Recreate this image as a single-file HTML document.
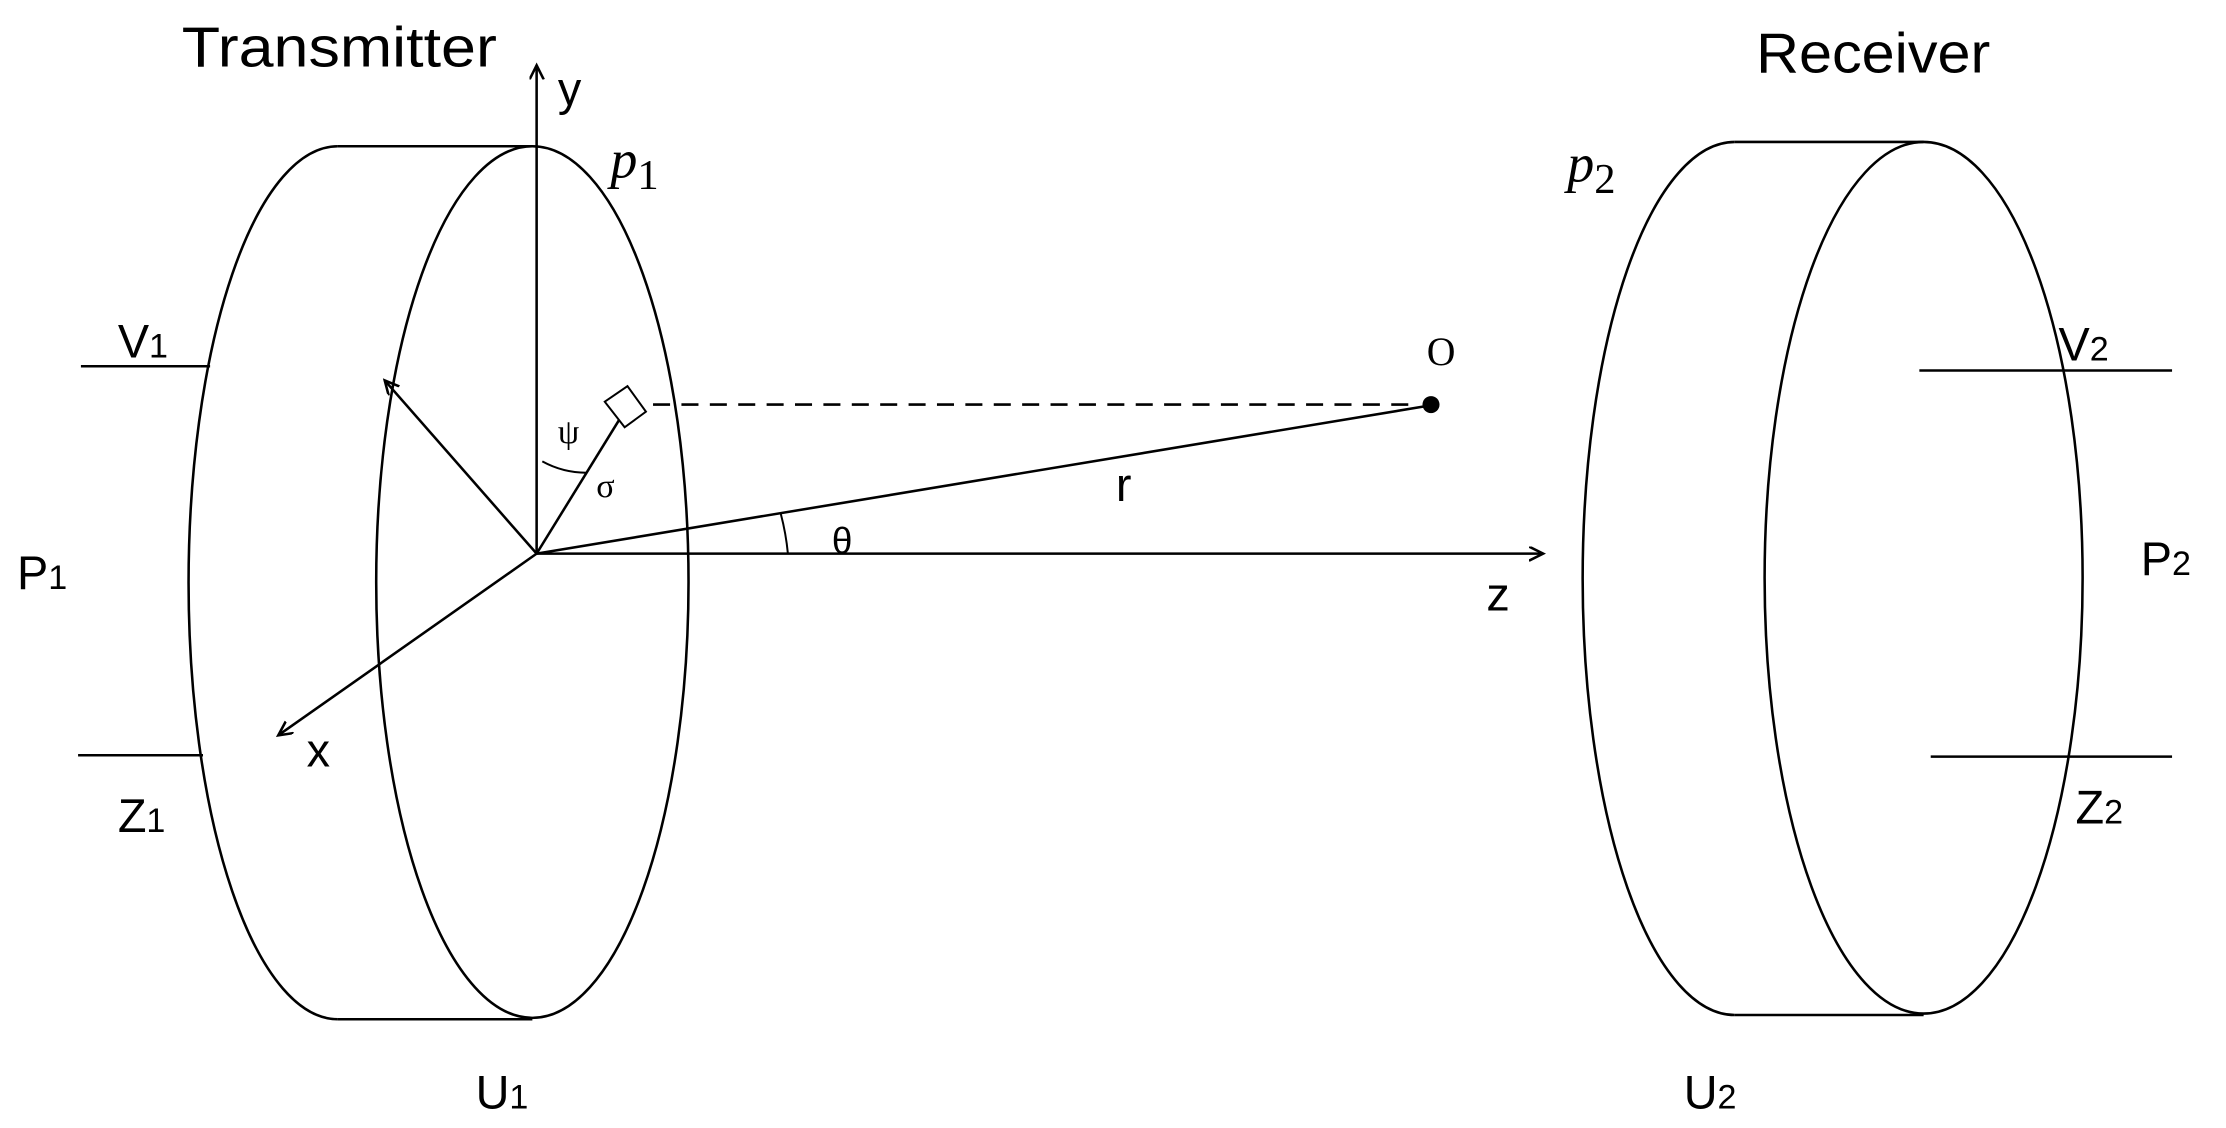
<!DOCTYPE html>
<html><head><meta charset="utf-8"><style>html,body{margin:0;padding:0;background:#fff}svg{display:block}</style></head>
<body>
<svg width="2226" height="1128" viewBox="0 0 1568 794.6" preserveAspectRatio="none" xmlns="http://www.w3.org/2000/svg">
<defs><marker id="a" markerWidth="12" markerHeight="12" refX="10" refY="5" orient="auto" markerUnits="userSpaceOnUse"><path d="M0,0 L10,5 L0,10" fill="none" stroke="#000" stroke-width="1.8"/></marker></defs>
<g fill="none" stroke="#000" stroke-width="1.8">
<path d="M238,103 A105,307 0 0 0 238,718"/>
<ellipse cx="375" cy="410" rx="110" ry="307"/>
<line x1="238" y1="103" x2="375" y2="103"/>
<line x1="238" y1="718" x2="375" y2="718"/>
<line x1="57" y1="258" x2="148" y2="258"/>
<line x1="55" y1="532" x2="143" y2="532"/>
<path d="M1222,100 A107,307 0 0 0 1222,715"/>
<ellipse cx="1355" cy="407" rx="112" ry="307"/>
<line x1="1222" y1="100" x2="1355" y2="100"/>
<line x1="1222" y1="715" x2="1355" y2="715"/>
<line x1="1352" y1="261" x2="1530" y2="261"/>
<line x1="1360" y1="533" x2="1530" y2="533"/>
<line x1="378" y1="390" x2="378" y2="46" marker-end="url(#a)"/>
<line x1="378" y1="390" x2="1087" y2="390" marker-end="url(#a)"/>
<line x1="378" y1="390" x2="196" y2="518" marker-end="url(#a)"/>
<line x1="378" y1="390" x2="271" y2="268" marker-end="url(#a)"/>
<line x1="378" y1="390" x2="1005" y2="286"/>
<line x1="460" y1="285" x2="1000" y2="285" stroke-dasharray="12,8"/>
<line x1="378" y1="390" x2="436" y2="296"/>
<path d="M426,283 L442,272 L455,290 L440,301 Z" stroke-width="1.4"/>
<path d="M382,325 A65,65 0 0 0 413,333" stroke-width="1.4"/>
<path d="M550,362 A175,175 0 0 1 555,390" stroke-width="1.4"/>
</g>
<circle cx="1008" cy="285" r="6" fill="#000"/>
<g font-family="Liberation Sans, sans-serif" font-size="33" fill="#000">
<text x="128" y="47" font-size="40" textLength="222" lengthAdjust="spacingAndGlyphs">Transmitter</text>
<text x="1237" y="51" font-size="40" textLength="165" lengthAdjust="spacingAndGlyphs">Receiver</text>
<text x="393" y="74">y</text>
<text x="1047" y="430">z</text>
<text x="216" y="540">x</text>
<text x="586" y="390" font-size="26">θ</text>
<text x="786" y="353">r</text>
<text x="12" y="415">P<tspan font-size="24">1</tspan></text>
<text x="1508" y="405">P<tspan font-size="24">2</tspan></text>
<text x="83" y="252">V<tspan font-size="24">1</tspan></text>
<text x="1450" y="254">V<tspan font-size="24">2</tspan></text>
<text x="83" y="586">Z<tspan font-size="24">1</tspan></text>
<text x="1462" y="580">Z<tspan font-size="24">2</tspan></text>
<text x="335" y="781">U<tspan font-size="24">1</tspan></text>
<text x="1186" y="781">U<tspan font-size="24">2</tspan></text>
</g>
<g font-family="Liberation Serif, serif" fill="#000">
<text x="430" y="125" font-size="38" font-style="italic">p<tspan font-style="normal" font-size="30" dy="8">1</tspan></text>
<text x="1104" y="128" font-size="38" font-style="italic">p<tspan font-style="normal" font-size="30" dy="8">2</tspan></text>
<text x="1005" y="257" font-size="28">O</text>
<text x="393" y="312" font-size="24">ψ</text>
<text x="420" y="350" font-size="24">σ</text>
</g>
</svg>
</body></html>
